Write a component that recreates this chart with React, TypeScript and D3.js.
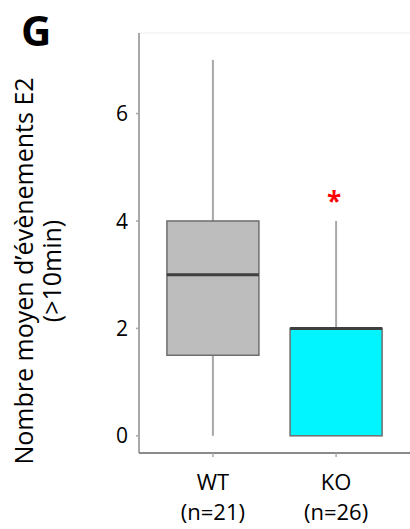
import React from "react";
import * as d3 from "d3";

const groups = ["WT", "KO"];
const nLabels = ["(n=21)", "(n=26)"];
const mins = [0, 0];
const q1s = [1.5, 0];
const medians = [3, 2];
const q3s = [4, 2];
const maxs = [7, 4];
const fills = ["#bdbdbd", "#00f5ff"];
const yTicks = [0, 2, 4, 6];
const significant = [false, true];

const W = 410;
const H = 529;
const FONT = "'Open Sans', sans-serif";

export default function App() {
  const y = d3.scaleLinear().domain([-0.32, 7.5]).range([453, 33]);
  const x = d3.scalePoint<string>().domain(groups).range([139, 410]).padding(0.6);
  const boxW = 92;
  const axisX = 139;
  const axisY = 453;

  return (
    <svg
      width={W}
      height={H}
      style={{ position: "absolute", left: 0, top: 0, background: "#fff" }}
    >
      <text x={21} y={46} fontFamily={FONT} fontWeight="bold" fontSize={42} fill="#000">
        G
      </text>
      {/* faint plot border top */}
      <line x1={axisX} x2={W} y1={33} y2={33} stroke="#f6f6f6" strokeWidth={2} />
      {/* y axis */}
      <line x1={axisX} x2={axisX} y1={33} y2={axisY} stroke="#a8a8a8" strokeWidth={2} />
      {yTicks.map((t) => (
        <g key={t}>
          <line x1={axisX - 3} x2={axisX} y1={y(t)} y2={y(t)} stroke="#a8a8a8" strokeWidth={1.5} />
          <text
            x={128}
            y={y(t)}
            dy="0.36em"
            textAnchor="end"
            fontFamily={FONT}
            fontSize={21}
            fill="#000"
          >
            {t}
          </text>
        </g>
      ))}
      {/* x axis */}
      <line x1={axisX} x2={W} y1={axisY} y2={axisY} stroke="#8a8a8a" strokeWidth={2} />
      {groups.map((g, i) => {
        const cx = x(g) as number;
        return (
          <g key={g}>
            <line x1={cx} x2={cx} y1={axisY} y2={axisY + 4} stroke="#a8a8a8" strokeWidth={1.5} />
            <text x={cx} y={490} textAnchor="middle" fontFamily={FONT} fontSize={22} fill="#000">
              {g}
            </text>
            <text x={cx} y={520} textAnchor="middle" fontFamily={FONT} fontSize={22} fill="#000">
              {nLabels[i]}
            </text>
            {/* whiskers */}
            <line x1={cx} x2={cx} y1={y(maxs[i])} y2={y(q3s[i])} stroke="#a8a8a8" strokeWidth={2} />
            <line x1={cx} x2={cx} y1={y(q1s[i])} y2={y(mins[i])} stroke="#a8a8a8" strokeWidth={2} />
            {/* box */}
            <rect
              x={cx - boxW / 2}
              y={y(q3s[i])}
              width={boxW}
              height={y(q1s[i]) - y(q3s[i])}
              fill={fills[i]}
              stroke="#6e6e6e"
              strokeWidth={1.5}
            />
            <line
              x1={cx - boxW / 2}
              x2={cx + boxW / 2}
              y1={y(medians[i])}
              y2={y(medians[i])}
              stroke="#3f3f3f"
              strokeWidth={3}
            />
            {significant[i] && (
              <text
                x={cx - 2}
                y={y(maxs[i]) - 10}
                textAnchor="middle"
                fontFamily={FONT}
                fontWeight="bold"
                fontSize={26}
                fill="#ff0000"
              >
                *
              </text>
            )}
          </g>
        );
      })}
      {/* y label */}
      <g transform="translate(33,271) rotate(-90)">
        <text x={0} y={0} textAnchor="middle" fontFamily={FONT} fontSize={25} fill="#000">
          Nombre moyen d’évènements E2
        </text>
        <text x={0} y={28} textAnchor="middle" fontFamily={FONT} fontSize={25} fill="#000">
          (&gt;10min)
        </text>
      </g>
    </svg>
  );
}
